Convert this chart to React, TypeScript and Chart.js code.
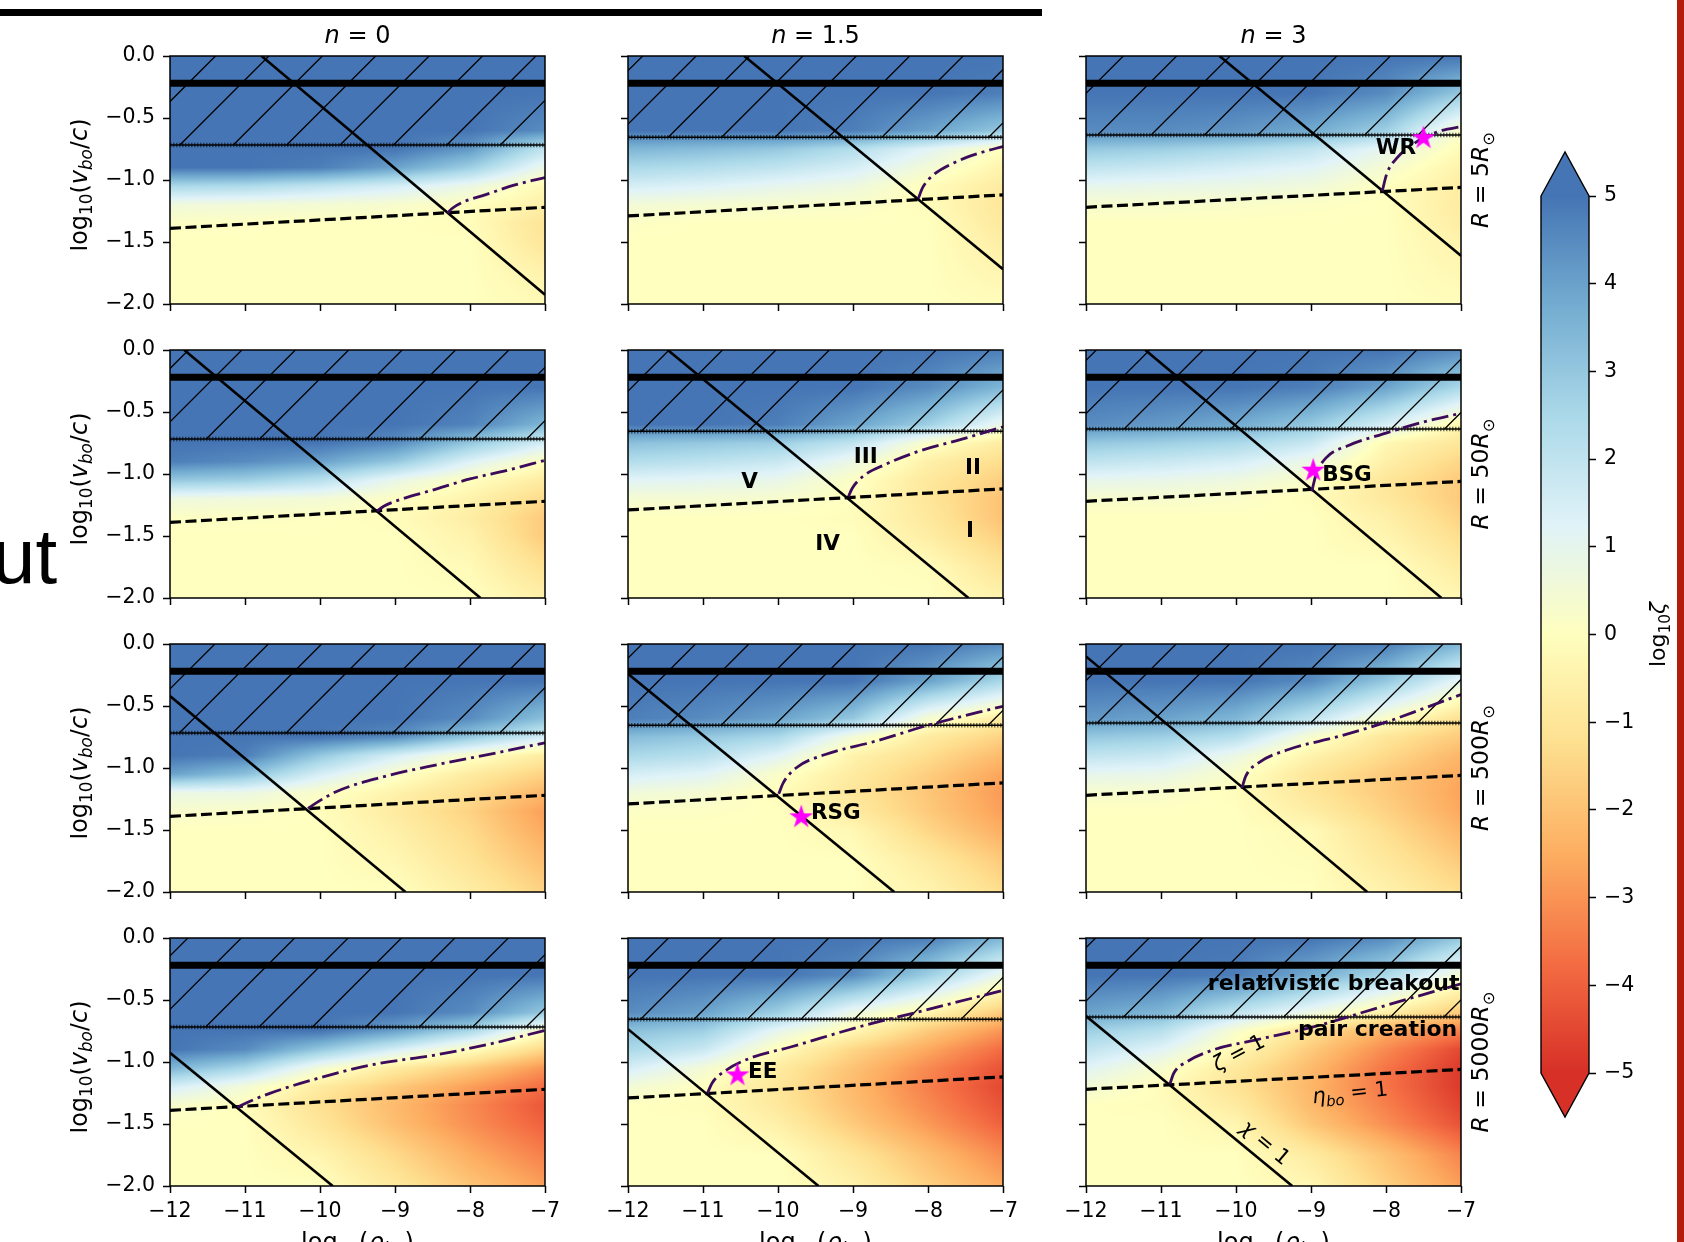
import React, { useEffect, useRef } from 'react';
import { Chart, registerables } from 'chart.js';

Chart.register(...registerables);

const FONT = "'DejaVu Sans', 'Noto Sans', sans-serif";

// ---------------- data ----------------
const X_TICKS = [-12, -11, -10, -9, -8, -7];
const X_TICK_LABELS = ['−12', '−11', '−10', '−9', '−8', '−7'];
const Y_TICKS = [0, -0.5, -1, -1.5, -2];
const Y_TICK_LABELS = ['0.0', '−0.5', '−1.0', '−1.5', '−2.0'];
const CB_TICKS = [5, 4, 3, 2, 1, 0, -1, -2, -3, -4, -5];
const CB_TICK_LABELS = ['5', '4', '3', '2', '1', '0', '−1', '−2', '−3', '−4', '−5'];

const N_VALUES = ['0', '1.5', '3'];
const R_VALUES = ['5', '50', '500', '5000'];

const REL_BREAKOUT_Y = -0.22;
const PAIR_Y = [-0.718, -0.655, -0.637];
const ETA_Y_LEFT = [-1.39, -1.29, -1.22];
const ETA_Y_RIGHT = [-1.22, -1.12, -1.06];

// chi = 1 lines (endpoints) per n, for each radius
const CHI_R5 = [[[-10.78, 0], [-7, -1.925]], [[-10.45, 0], [-7, -1.72]], [[-10.22, 0], [-7, -1.61]]];
const CHI_R50 = [[[-11.81, 0], [-7.86, -2]], [[-11.47, 0], [-7.46, -2]], [[-11.21, 0], [-7.26, -2]]];
const CHI_R500 = [[[-12, -0.42], [-8.86, -2]], [[-12, -0.24], [-8.45, -2]], [[-12, -0.1], [-8.25, -2]]];
const CHI_R5000 = [[[-12, -0.925], [-9.83, -2]], [[-12, -0.735], [-9.46, -2]], [[-12, -0.63], [-9.25, -2]]];

// zeta = 1 curves
const ZETA_R5 = [
  [[-8.3, -1.267], [-8.24, -1.23], [-8.1, -1.18], [-7.8, -1.12], [-7.4, -1.04], [-7, -0.98]],
  [[-8.13, -1.15], [-8.07, -1.06], [-7.93, -0.96], [-7.65, -0.86], [-7.3, -0.78], [-7, -0.73]],
  [[-8.05, -1.09], [-7.99, -0.95], [-7.85, -0.82], [-7.68, -0.73], [-7.5, -0.66], [-7.25, -0.6], [-7, -0.57]],
];
const ZETA_R50 = [
  [[-9.24, -1.3], [-9.15, -1.26], [-8.9, -1.2], [-8.5, -1.13], [-8.0, -1.04], [-7.5, -0.97], [-7, -0.89]],
  [[-9.06, -1.18], [-9.01, -1.115], [-8.87, -1.02], [-8.58, -0.926], [-8.13, -0.818], [-7.57, -0.723], [-7, -0.62]],
  [[-8.99, -1.14], [-8.93, -1.0], [-8.8, -0.87], [-8.5, -0.77], [-8.0, -0.67], [-7.5, -0.58], [-7, -0.51]],
];
const ZETA_R500 = [
  [[-10.16, -1.326], [-10.05, -1.281], [-9.77, -1.187], [-9.21, -1.079], [-8.43, -0.972], [-7.65, -0.878], [-7, -0.797]],
  [[-9.99, -1.208], [-9.93, -1.12], [-9.76, -1.0], [-9.37, -0.891], [-8.7, -0.784], [-7.97, -0.65], [-7, -0.502]],
  [[-9.92, -1.16], [-9.87, -1.066], [-9.7, -0.958], [-9.3, -0.851], [-8.63, -0.745], [-8.0, -0.63], [-7.5, -0.52], [-7, -0.408]],
];
const ZETA_R5000 = [
  [[-11.1, -1.364], [-10.94, -1.318], [-10.66, -1.251], [-10.1, -1.144], [-9.32, -1.024], [-8.43, -0.94], [-7.7, -0.85], [-7, -0.745]],
  [[-10.94, -1.251], [-10.88, -1.171], [-10.72, -1.078], [-10.38, -0.971], [-9.82, -0.877], [-8.92, -0.717], [-8.13, -0.596], [-7, -0.422]],
  [[-10.88, -1.176], [-10.83, -1.091], [-10.65, -0.997], [-10.31, -0.904], [-9.75, -0.824], [-8.97, -0.717], [-8.07, -0.556], [-7, -0.369]],
];

// log10(zeta) sampled on a coarse grid (rows: GRID_Y top->bottom, cols: GRID_X)
const GRID_X = [-12, -11, -10, -9, -8, -7];
const GRID_Y = [0, -0.3, -0.6, -0.75, -0.9, -1.05, -1.2, -1.35, -1.5, -1.75, -2.0];

const LOGZ_R5_N0 = [
  [5, 5, 5, 5, 5, 5],
  [5, 5, 5, 5, 5, 5],
  [5, 5, 5, 5, 5, 4.5],
  [5, 5, 5, 5, 4.2, 2],
  [5, 5, 4.8, 4, 2.8, 0.8],
  [2.5, 2.4, 2, 1.5, 0.8, -0.3],
  [0.6, 0.55, 0.45, 0.3, 0, -0.6],
  [0.1, 0.05, 0, 0, -0.1, -1.1],
  [0, 0, 0, 0, 0, -1.0],
  [0, 0, 0, 0, 0, -0.5],
  [0, 0, 0, 0, 0, -0.2],
];
const LOGZ_R5_N15 = [
  [5, 5, 5, 5, 5, 5],
  [5, 5, 5, 5, 5, 4.8],
  [5, 5, 5, 4.8, 4, 3],
  [3.5, 3.3, 3, 2.3, 1.2, 0],
  [2.5, 2.3, 2, 1.5, 0.5, -0.5],
  [1.5, 1.3, 1, 0.7, -0.1, -0.8],
  [0.5, 0.4, 0.3, 0.2, -0.1, -1.0],
  [0.1, 0, 0, 0, 0, -0.9],
  [0, 0, 0, 0, 0, -0.7],
  [0, 0, 0, 0, 0, -0.4],
  [0, 0, 0, 0, 0, -0.1],
];
const LOGZ_R5_N3 = [
  [5, 5, 5, 5, 5, 5],
  [5, 5, 5, 5, 4.5, 3],
  [4.5, 4.5, 4.3, 3.8, 2.8, 0.2],
  [3, 2.8, 2.5, 2, 1, -0.2],
  [2, 1.8, 1.5, 1.2, 0.4, -0.5],
  [1, 0.9, 0.8, 0.6, 0, -0.7],
  [0.3, 0.3, 0.2, 0.1, 0, -0.8],
  [0, 0, 0, 0, 0, -0.7],
  [0, 0, 0, 0, 0, -0.5],
  [0, 0, 0, 0, 0, -0.3],
  [0, 0, 0, 0, 0, -0.1],
];
const LOGZ_R50_N0 = [
  [5, 5, 5, 5, 5, 5],
  [5, 5, 5, 5, 5, 5],
  [5, 5, 5, 5, 4.7, 3.5],
  [5, 5, 5, 4.5, 3, 1.5],
  [4.8, 4.5, 4, 3, 1.3, 0],
  [3, 2.8, 2.2, 0.9, 0, -0.8],
  [0.7, 0.6, 0.5, 0.1, -0.5, -1.4],
  [0.1, 0.1, 0.05, -0.1, -0.7, -1.8],
  [0, 0, 0, 0, -0.5, -1.8],
  [0, 0, 0, 0, -0.2, -1.2],
  [0, 0, 0, 0, 0, -0.6],
];
const LOGZ_R50_N15 = [
  [5, 5, 5, 5, 5, 4.8],
  [5, 5, 5, 5, 4.5, 3.5],
  [5, 5, 4.8, 4, 2.8, 0.8],
  [3.2, 3, 2.8, 2, 0.2, -0.8],
  [2.3, 2.1, 1.8, 0.8, -0.6, -1.3],
  [1.2, 1.1, 0.9, 0.1, -0.9, -1.7],
  [0.4, 0.4, 0.3, 0, -1.0, -2.0],
  [0, 0, 0, -0.1, -0.9, -2.0],
  [0, 0, 0, 0, -0.7, -1.7],
  [0, 0, 0, 0, -0.1, -1.1],
  [0, 0, 0, 0, 0, -0.5],
];
const LOGZ_R50_N3 = [
  [5, 5, 5, 5, 5, 4.5],
  [5, 5, 5, 4.8, 4, 2.5],
  [4.5, 4.2, 3.8, 3, 1.5, -0.4],
  [3, 2.8, 2.5, 1.8, -0.3, -1.0],
  [2, 1.8, 1.5, 0.8, -0.6, -1.5],
  [1, 0.9, 0.7, 0.2, -1.0, -1.8],
  [0.3, 0.3, 0.2, -0.1, -0.9, -1.8],
  [0, 0, 0, 0, -0.6, -1.6],
  [0, 0, 0, 0, -0.4, -1.3],
  [0, 0, 0, 0, 0, -0.8],
  [0, 0, 0, 0, 0, -0.3],
];
const LOGZ_R500_N0 = [
  [5, 5, 5, 5, 5, 5],
  [5, 5, 5, 5, 5, 5],
  [5, 5, 5, 5, 4.5, 3.2],
  [5, 5, 5, 4.5, 3, 1.5],
  [5, 4.8, 3, 1.5, 0.2, -0.8],
  [4, 3.2, 1.5, 0.2, -0.8, -1.6],
  [0.8, 0.8, 0.2, -0.5, -1.3, -2.3],
  [0.3, 0.2, -0.05, -0.8, -1.6, -2.8],
  [0, 0, 0, -0.6, -1.4, -2.6],
  [0, 0, 0, -0.3, -1.1, -2.1],
  [0, 0, 0, 0, -0.7, -1.6],
];
const LOGZ_R500_N15 = [
  [5, 5, 5, 5, 5, 4.5],
  [5, 5, 5, 5, 4, 2.5],
  [4.8, 4.5, 4, 3, 0.4, -0.8],
  [3.3, 3, 2.5, 0.5, -0.8, -1.6],
  [2.5, 2.2, 1.2, -0.5, -1.3, -2.2],
  [1.5, 1.2, 0.2, -0.8, -1.7, -2.7],
  [0.6, 0.4, -0.1, -1.0, -1.9, -2.9],
  [0.1, 0.1, 0, -0.8, -1.8, -2.8],
  [0, 0, 0, -0.3, -1.5, -2.5],
  [0, 0, 0, 0, -0.8, -1.8],
  [0, 0, 0, 0, -0.4, -1.3],
];
const LOGZ_R500_N3 = [
  [5, 5, 5, 5, 4.8, 3.5],
  [5, 5, 5, 4.5, 3, 1],
  [4.2, 4, 3.5, 2, 0.2, -1.2],
  [3, 2.8, 2.2, 0.3, -1.0, -1.8],
  [2, 1.8, 0.8, -0.5, -1.4, -2.3],
  [1, 0.9, 0.2, -1.0, -1.8, -2.6],
  [0.3, 0.3, -0.1, -1.0, -1.8, -2.7],
  [0, 0, 0, -0.7, -1.6, -2.6],
  [0, 0, 0, -0.2, -1.3, -2.3],
  [0, 0, 0, -0.1, -0.9, -1.8],
  [0, 0, 0, 0, -0.5, -1.3],
];
const LOGZ_R5000_N0 = [
  [5, 5, 5, 5, 5, 5],
  [5, 5, 5, 5, 5, 5],
  [5, 5, 5, 5, 4.5, 3],
  [5, 5, 5, 4, 2.5, 0],
  [5, 4.5, 3, 1.5, 0, -1.5],
  [3.5, 2.5, 0.5, -0.8, -1.8, -3.0],
  [1.5, 0.5, -0.8, -1.8, -2.8, -3.8],
  [0.3, -0.1, -1.2, -2.2, -3.2, -4.2],
  [0, 0, -1.0, -2.1, -3.1, -4.0],
  [0, 0, -0.4, -1.4, -2.5, -3.4],
  [0, 0, 0, -0.9, -1.9, -2.8],
];
const LOGZ_R5000_N15 = [
  [5, 5, 5, 5, 4.8, 3.5],
  [5, 5, 5, 4.5, 2.8, 0.8],
  [4.5, 4, 2.8, 0.8, -0.4, -1.8],
  [3.2, 2.8, 1.0, -0.3, -1.8, -3.0],
  [2.5, 1.8, -0.1, -1.5, -2.6, -3.8],
  [1.5, 0.5, -0.8, -2.0, -3.2, -4.3],
  [0.5, 0, -1.0, -2.2, -3.4, -4.5],
  [0, -0.1, -0.9, -2.1, -3.2, -4.3],
  [0, 0, -0.6, -1.8, -2.9, -4.0],
  [0, 0, 0, -1.0, -2.1, -3.2],
  [0, 0, 0, -0.5, -1.6, -2.6],
];
const LOGZ_R5000_N3 = [
  [5, 5, 5, 5, 4.5, 3],
  [5, 5, 4.8, 3.8, 2.5, 0.4],
  [4, 3.5, 2, 0.8, -0.6, -1.8],
  [2.8, 2.2, 0.3, -1.2, -2.5, -3.4],
  [2, 1.2, -0.3, -1.8, -3.2, -4.5],
  [1.2, 0.3, -0.9, -2.2, -3.6, -4.8],
  [0.5, -0.1, -1.1, -2.3, -3.6, -4.8],
  [0, -0.1, -0.8, -2.2, -3.4, -4.6],
  [0, 0, -0.4, -1.9, -3.1, -4.3],
  [0, 0, 0, -0.8, -2.0, -3.3],
  [0, 0, 0, -0.3, -1.6, -2.8],
];

// stars and labels
const STARS = [
  { row: 0, col: 2, x: -7.5, y: -0.655 },
  { row: 1, col: 2, x: -8.97, y: -0.965 },
  { row: 2, col: 1, x: -9.69, y: -1.39 },
  { row: 3, col: 1, x: -10.54, y: -1.1 },
];
const STAR_LABELS = [
  { row: 0, col: 2, text: 'WR', x: -7.6, y: -0.725, align: 'right' },
  { row: 1, col: 2, text: 'BSG', x: -8.85, y: -0.99, align: 'left' },
  { row: 2, col: 1, text: 'RSG', x: -9.56, y: -1.35, align: 'left' },
  { row: 3, col: 1, text: 'EE', x: -10.4, y: -1.07, align: 'left' },
];
const REGION_LABELS = [
  { row: 1, col: 1, text: 'V', x: -10.38, y: -1.047 },
  { row: 1, col: 1, text: 'III', x: -8.83, y: -0.845 },
  { row: 1, col: 1, text: 'II', x: -7.4, y: -0.939 },
  { row: 1, col: 1, text: 'I', x: -7.44, y: -1.447 },
  { row: 1, col: 1, text: 'IV', x: -9.34, y: -1.547 },
];
const BOLD_NOTES = [
  { row: 3, col: 2, text: 'relativistic breakout', x: -7.02, y: -0.355 },
  { row: 3, col: 2, text: 'pair creation', x: -7.05, y: -0.73 },
];

// ---------------- styling / layout ----------------
const COL_LEFT = [170, 628, 1086];
const ROW_TOP = [56, 350, 644, 938];
const PW = 375;
const PH = 248;
const LM = 100;
const RM = 40;
const TM = 50;
const BM = 70;
const HATCH_SPACING = 53.4;
const HATCH_PHASE = 4.5;
const ZETA_COLOR = '#3d0b5c';
const TICK_SIZE = 20.5;
const LABEL_SIZE = 24;

const RDYLBU = [
  [165, 0, 38], [215, 48, 39], [244, 109, 67], [253, 174, 97], [254, 224, 144],
  [255, 255, 191], [224, 243, 248], [171, 217, 233], [116, 173, 209], [69, 117, 180], [49, 54, 149],
];

function cmap(v: number): number[] {
  const c = Math.max(-5, Math.min(5, v));
  const t = 0.1 + (0.8 * (c + 5)) / 10;
  const s = t * 10;
  const i = Math.min(9, Math.floor(s));
  const f = s - i;
  const a = RDYLBU[i];
  const b = RDYLBU[i + 1];
  return [a[0] + (b[0] - a[0]) * f, a[1] + (b[1] - a[1]) * f, a[2] + (b[2] - a[2]) * f];
}

function sampleGrid(grid: number[][], x: number, y: number) {
  let i = 0;
  while (i < GRID_X.length - 2 && x > GRID_X[i + 1]) i++;
  let j = 0;
  while (j < GRID_Y.length - 2 && y < GRID_Y[j + 1]) j++;
  const tx = Math.max(0, Math.min(1, (x - GRID_X[i]) / (GRID_X[i + 1] - GRID_X[i])));
  const ty = Math.max(0, Math.min(1, (GRID_Y[j] - y) / (GRID_Y[j] - GRID_Y[j + 1])));
  const v00 = grid[j][i], v01 = grid[j][i + 1], v10 = grid[j + 1][i], v11 = grid[j + 1][i + 1];
  return (v00 * (1 - tx) + v01 * tx) * (1 - ty) + (v10 * (1 - tx) + v11 * tx) * ty;
}

type Seg = { t: string; it?: boolean; sub?: boolean; b?: boolean };
function segFont(s: Seg, size: number) {
  const sz = s.sub ? size * 0.7 : size;
  return `${s.it ? 'italic ' : ''}${s.b ? 'bold ' : ''}${sz}px ${FONT}`;
}
function drawRich(
  ctx: CanvasRenderingContext2D, segs: Seg[], x: number, y: number, size: number,
  align: string = 'center', rot: number = 0, valign: string = 'middle',
) {
  ctx.save();
  ctx.translate(x, y);
  ctx.rotate((rot * Math.PI) / 180);
  let total = 0;
  const ws = segs.map((s) => {
    ctx.font = segFont(s, size);
    const w = ctx.measureText(s.t).width;
    total += w;
    return w;
  });
  let cx = align === 'left' ? 0 : align === 'right' ? -total : -total / 2;
  const base = valign === 'middle' ? size * 0.36 : 0;
  ctx.textBaseline = 'alphabetic';
  ctx.textAlign = 'left';
  ctx.fillStyle = '#000';
  segs.forEach((s, i) => {
    ctx.font = segFont(s, size);
    ctx.fillText(s.t, cx, base + (s.sub ? size * 0.22 : 0));
    cx += ws[i];
  });
  ctx.restore();
}

let STAR_IMG: HTMLCanvasElement | null = null;
function starImage() {
  if (STAR_IMG) return STAR_IMG;
  const c = document.createElement('canvas');
  c.width = 26;
  c.height = 26;
  const g = c.getContext('2d')!;
  const R = 12.5;
  const r = R * 0.382;
  g.translate(13, 13.8);
  g.beginPath();
  for (let k = 0; k < 10; k++) {
    const ang = -Math.PI / 2 + (k * Math.PI) / 5;
    const rad = k % 2 === 0 ? R : r;
    g.lineTo(rad * Math.cos(ang), rad * Math.sin(ang));
  }
  g.closePath();
  g.fillStyle = '#ff00ff';
  g.fill();
  STAR_IMG = c;
  return c;
}

const LOGZ = [
  [LOGZ_R5_N0, LOGZ_R5_N15, LOGZ_R5_N3],
  [LOGZ_R50_N0, LOGZ_R50_N15, LOGZ_R50_N3],
  [LOGZ_R500_N0, LOGZ_R500_N15, LOGZ_R500_N3],
  [LOGZ_R5000_N0, LOGZ_R5000_N15, LOGZ_R5000_N3],
];
const CHI = [CHI_R5, CHI_R50, CHI_R500, CHI_R5000];
const ZETA = [ZETA_R5, ZETA_R50, ZETA_R500, ZETA_R5000];

const pts = (a: number[][]) => a.map(([x, y]) => ({ x, y }));

function panelConfig(row: number, col: number, ox: number, oy: number): any {
  const grid = LOGZ[row][col];
  const pairY = PAIR_Y[col];
  const plugin = {
    id: 'panelDeco',
    beforeDatasetsDraw(chart: any) {
      const ctx: CanvasRenderingContext2D = chart.ctx;
      const a = chart.chartArea;
      const xs = chart.scales.x;
      const ys = chart.scales.y;
      const w = Math.round(a.right - a.left);
      const h = Math.round(a.bottom - a.top);
      const off = document.createElement('canvas');
      off.width = w;
      off.height = h;
      const octx = off.getContext('2d')!;
      const img = octx.createImageData(w, h);
      const xv: number[] = [];
      for (let px = 0; px < w; px++) xv.push(xs.getValueForPixel(a.left + px + 0.5));
      for (let py = 0; py < h; py++) {
        const yv = ys.getValueForPixel(a.top + py + 0.5);
        for (let px = 0; px < w; px++) {
          const c = cmap(sampleGrid(grid, xv[px], yv));
          const k = (py * w + px) * 4;
          img.data[k] = c[0];
          img.data[k + 1] = c[1];
          img.data[k + 2] = c[2];
          img.data[k + 3] = 255;
        }
      }
      octx.putImageData(img, 0, 0);
      ctx.drawImage(off, a.left, a.top);
      // hatch above the pair-creation limit
      const yTop = ys.getPixelForValue(0);
      const yBot = ys.getPixelForValue(pairY);
      ctx.save();
      ctx.beginPath();
      ctx.rect(a.left, yTop, a.right - a.left, yBot - yTop);
      ctx.clip();
      ctx.strokeStyle = '#000';
      ctx.lineWidth = 1.3;
      const K0 = HATCH_PHASE - (ox + oy);
      const kMin = a.left + yTop - HATCH_SPACING;
      const kMax = a.right + yBot + HATCH_SPACING;
      let K = K0 + Math.floor((kMin - K0) / HATCH_SPACING) * HATCH_SPACING;
      ctx.beginPath();
      for (; K <= kMax; K += HATCH_SPACING) {
        ctx.moveTo(K - yBot, yBot);
        ctx.lineTo(K - yTop, yTop);
      }
      ctx.stroke();
      ctx.restore();
    },
    afterDatasetsDraw(chart: any) {
      const ctx: CanvasRenderingContext2D = chart.ctx;
      const a = chart.chartArea;
      const xs = chart.scales.x;
      const ys = chart.scales.y;
      const X = (v: number) => xs.getPixelForValue(v);
      const Y = (v: number) => ys.getPixelForValue(v);
      STAR_LABELS.filter((s) => s.row === row && s.col === col).forEach((s) =>
        drawRich(ctx, [{ t: s.text, b: true }], X(s.x), Y(s.y), 21.5, s.align));
      REGION_LABELS.filter((s) => s.row === row && s.col === col).forEach((s) =>
        drawRich(ctx, [{ t: s.text, b: true }], X(s.x), Y(s.y), 21.5, 'center'));
      BOLD_NOTES.filter((s) => s.row === row && s.col === col).forEach((s) =>
        drawRich(ctx, [{ t: s.text, b: true }], X(s.x), Y(s.y), 22, 'right'));
      if (row === 3 && col === 2) {
        drawRich(ctx, [{ t: 'ζ', it: true }, { t: ' = 1' }], X(-9.97), Y(-0.92), 21, 'center', -28);
        drawRich(ctx, [{ t: 'η', it: true }, { t: 'bo', it: true, sub: true }, { t: ' = 1' }], X(-8.48), Y(-1.24), 21, 'center', -6);
        drawRich(ctx, [{ t: 'χ', it: true }, { t: ' = 1' }], X(-9.6), Y(-1.645), 21, 'center', 40);
      }
      // frame
      ctx.save();
      ctx.strokeStyle = '#000';
      ctx.lineWidth = 1.5;
      ctx.strokeRect(a.left, a.top, a.right - a.left, a.bottom - a.top);
      ctx.restore();
      // titles and axis labels
      const cx = (a.left + a.right) / 2;
      const cy = (a.top + a.bottom) / 2;
      if (row === 0) drawRich(ctx, [{ t: 'n', it: true }, { t: ' = ' + N_VALUES[col] }], cx, a.top - 22, LABEL_SIZE, 'center');
      if (col === 2) drawRich(ctx, [{ t: 'R', it: true }, { t: ' = ' + R_VALUES[row] }, { t: 'R', it: true }, { t: '⊙', sub: true }], a.right + 19, cy, 23.5, 'center', -90);
      if (col === 0) drawRich(ctx, [{ t: 'log' }, { t: '10', sub: true }, { t: '(' }, { t: 'v', it: true }, { t: 'bo', it: true, sub: true }, { t: '/' }, { t: 'c', it: true }, { t: ')' }], a.left - 92, cy + 5, LABEL_SIZE, 'center', -90);
      if (row === 3) drawRich(ctx, [{ t: 'log' }, { t: '10', sub: true }, { t: '(' }, { t: 'ρ', it: true }, { t: 'bo', it: true, sub: true }, { t: ')' }], cx, a.bottom + 64, LABEL_SIZE, 'center', 0, 'baseline');
    },
  };

  const datasets: any[] = [
    {
      data: STARS.filter((s) => s.row === row && s.col === col).map((s) => ({ x: s.x, y: s.y })),
      showLine: false, pointStyle: starImage(), pointRadius: 11, pointHoverRadius: 11, order: 0,
    },
    {
      data: pts(ZETA[row][col]), borderColor: ZETA_COLOR, borderWidth: 2.8, borderDash: [17, 5, 3, 5],
      pointRadius: 0, cubicInterpolationMode: 'monotone', fill: false, order: 1,
    },
    { data: pts(CHI[row][col]), borderColor: '#000', borderWidth: 2.6, pointRadius: 0, fill: false, order: 2 },
    {
      data: [{ x: X_TICKS[0], y: ETA_Y_LEFT[col] }, { x: X_TICKS[X_TICKS.length - 1], y: ETA_Y_RIGHT[col] }],
      borderColor: '#000', borderWidth: 3.2, borderDash: [11, 4.5], pointRadius: 0, fill: false, order: 3,
    },
    {
      data: [{ x: X_TICKS[0], y: REL_BREAKOUT_Y }, { x: X_TICKS[X_TICKS.length - 1], y: REL_BREAKOUT_Y }],
      borderColor: '#000', borderWidth: 7, pointRadius: 0, fill: false, order: 4,
    },
    {
      data: [{ x: X_TICKS[0], y: pairY }, { x: X_TICKS[X_TICKS.length - 1], y: pairY }],
      borderColor: '#000', borderWidth: 1.4, pointRadius: 0, fill: false, order: 5,
    },
    {
      data: [{ x: X_TICKS[0], y: pairY }, { x: X_TICKS[X_TICKS.length - 1], y: pairY }],
      borderColor: 'rgba(0,0,0,0.55)', borderWidth: 4.5, borderDash: [1.5, 1.5], pointRadius: 0, fill: false, order: 6,
    },
  ];

  const tickFont = { family: FONT, size: TICK_SIZE };
  return {
    type: 'line',
    data: { datasets },
    options: {
      responsive: false,
      animation: false,
      devicePixelRatio: 1,
      events: [],
      layout: { padding: { left: 0, top: TM, right: RM, bottom: 0 } },
      plugins: { legend: { display: false }, tooltip: { enabled: false }, title: { display: false } },
      scales: {
        x: {
          type: 'linear', min: X_TICKS[0], max: X_TICKS[X_TICKS.length - 1],
          afterBuildTicks: (s: any) => { s.ticks = X_TICKS.map((v) => ({ value: v })); },
          afterFit: (s: any) => { s.height = BM; },
          ticks: {
            display: row === 3, autoSkip: false, maxRotation: 0, minRotation: 0, padding: 6,
            color: '#000', font: tickFont,
            callback: (v: number) => X_TICK_LABELS[X_TICKS.indexOf(v)] ?? '',
          },
          grid: { display: true, drawOnChartArea: false, drawTicks: true, tickLength: 7, tickWidth: 1.5, tickColor: '#000' },
          border: { display: false },
        },
        y: {
          type: 'linear', min: Y_TICKS[Y_TICKS.length - 1], max: Y_TICKS[0],
          afterBuildTicks: (s: any) => { s.ticks = Y_TICKS.map((v) => ({ value: v })); },
          afterFit: (s: any) => { s.width = LM; },
          ticks: {
            display: col === 0, autoSkip: false, padding: 8, color: '#000', font: tickFont,
            callback: (v: number) => Y_TICK_LABELS[Y_TICKS.indexOf(v)] ?? '',
          },
          grid: { display: true, drawOnChartArea: false, drawTicks: true, tickLength: 7, tickWidth: 1.5, tickColor: '#000' },
          border: { display: false },
        },
      },
    },
    plugins: [plugin],
  };
}

function Panel({ row, col }: { row: number; col: number }) {
  const ref = useRef<HTMLCanvasElement>(null);
  const left = COL_LEFT[col] - LM;
  const top = ROW_TOP[row] - TM;
  const W = LM + PW + RM;
  const H = TM + PH + BM;
  useEffect(() => {
    const chart = new Chart(ref.current!, panelConfig(row, col, left, top));
    return () => chart.destroy();
  }, [row, col]);
  return (
    <div style={{ position: 'absolute', left, top, width: W, height: H }}>
      <canvas ref={ref} width={W} height={H} style={{ width: W, height: H }} />
    </div>
  );
}

const CB_LEFT = 1500;
const CB_TOP = 140;
const CB_W = 184;
const CB_H = 1000;

function Colorbar() {
  const ref = useRef<HTMLCanvasElement>(null);
  useEffect(() => {
    const plugin = {
      id: 'cbDeco',
      beforeDatasetsDraw(chart: any) {
        const ctx: CanvasRenderingContext2D = chart.ctx;
        const a = chart.chartArea;
        const ys = chart.scales.y;
        for (let py = Math.floor(a.top); py < Math.ceil(a.bottom); py++) {
          const c = cmap(ys.getValueForPixel(py + 0.5));
          ctx.fillStyle = `rgb(${c[0] | 0},${c[1] | 0},${c[2] | 0})`;
          ctx.fillRect(a.left, py, a.right - a.left, 1);
        }
        const mid = (a.left + a.right) / 2;
        const tip = 44;
        const ct = cmap(CB_TICKS[0]);
        const cb = cmap(CB_TICKS[CB_TICKS.length - 1]);
        ctx.fillStyle = `rgb(${ct[0] | 0},${ct[1] | 0},${ct[2] | 0})`;
        ctx.beginPath();
        ctx.moveTo(a.left, a.top + 0.5);
        ctx.lineTo(mid, a.top - tip);
        ctx.lineTo(a.right, a.top + 0.5);
        ctx.closePath();
        ctx.fill();
        ctx.fillStyle = `rgb(${cb[0] | 0},${cb[1] | 0},${cb[2] | 0})`;
        ctx.beginPath();
        ctx.moveTo(a.left, a.bottom - 0.5);
        ctx.lineTo(mid, a.bottom + tip);
        ctx.lineTo(a.right, a.bottom - 0.5);
        ctx.closePath();
        ctx.fill();
        ctx.strokeStyle = '#000';
        ctx.lineWidth = 1.4;
        ctx.beginPath();
        ctx.moveTo(a.left, a.top);
        ctx.lineTo(mid, a.top - tip);
        ctx.lineTo(a.right, a.top);
        ctx.lineTo(a.right, a.bottom);
        ctx.lineTo(mid, a.bottom + tip);
        ctx.lineTo(a.left, a.bottom);
        ctx.closePath();
        ctx.stroke();
        drawRich(ctx, [{ t: 'log' }, { t: '10', sub: true }, { t: 'ζ', it: true }], 157, (a.top + a.bottom) / 2, 22, 'center', -90);
      },
    };
    const chart = new Chart(ref.current!, {
      type: 'scatter',
      data: { datasets: [] },
      options: {
        responsive: false,
        animation: false,
        devicePixelRatio: 1,
        events: [],
        layout: { padding: { left: 41, top: 56, bottom: 67, right: 0 } },
        plugins: { legend: { display: false }, tooltip: { enabled: false } },
        scales: {
          x: { display: false, type: 'linear', min: 0, max: 1 },
          y: {
            position: 'right', type: 'linear', min: CB_TICKS[CB_TICKS.length - 1], max: CB_TICKS[0],
            afterBuildTicks: (s: any) => { s.ticks = CB_TICKS.map((v) => ({ value: v })); },
            afterFit: (s: any) => { s.width = 95; },
            ticks: {
              autoSkip: false, padding: 8, color: '#000', font: { family: FONT, size: TICK_SIZE },
              callback: (v: number) => CB_TICK_LABELS[CB_TICKS.indexOf(v)] ?? '',
            },
            grid: { display: true, drawOnChartArea: false, drawTicks: true, tickLength: 7, tickWidth: 1.5, tickColor: '#000' },
            border: { display: false },
          },
        },
      } as any,
      plugins: [plugin],
    } as any);
    return () => chart.destroy();
  }, []);
  return (
    <div style={{ position: 'absolute', left: CB_LEFT, top: CB_TOP, width: CB_W, height: CB_H }}>
      <canvas ref={ref} width={CB_W} height={CB_H} style={{ width: CB_W, height: CB_H }} />
    </div>
  );
}

export default function App() {
  const panels: any[] = [];
  for (let r = 0; r < R_VALUES.length; r++) {
    for (let c = 0; c < N_VALUES.length; c++) panels.push(<Panel key={`${r}-${c}`} row={r} col={c} />);
  }
  return (
    <div style={{ position: 'absolute', left: 0, top: 0, width: 1684, height: 1242, overflow: 'hidden', background: '#fff' }}>
      <div style={{ position: 'absolute', left: 0, top: 9, width: 1042, height: 7, background: '#000' }} />
      <div style={{ position: 'absolute', left: -8, top: 517, fontFamily: "'Liberation Sans', Arial, sans-serif", fontSize: 78, lineHeight: '78px', color: '#000', whiteSpace: 'nowrap' }}>ut</div>
      {panels}
      <Colorbar />
      <div style={{ position: 'absolute', left: 1677, top: 0, width: 7, height: 1242, background: '#b31b0b' }} />
    </div>
  );
}
